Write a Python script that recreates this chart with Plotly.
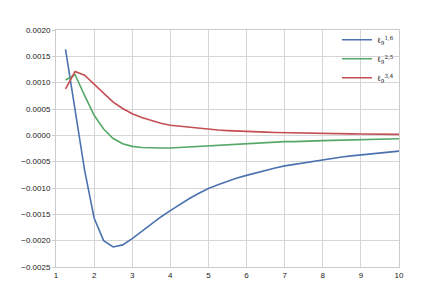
import plotly.graph_objects as go

x_vals = [1.25, 1.5, 1.75, 2.0, 2.25, 2.5, 2.75, 3.0, 3.25, 3.5, 3.75, 4.0,
          4.25, 4.5, 4.75, 5.0, 5.25, 5.5, 5.75, 6.0, 6.25, 6.5, 6.75, 7.0,
          7.25, 7.5, 7.75, 8.0, 8.25, 8.5, 8.75, 9.0, 9.25, 9.5, 9.75, 10.0]

l16 = [0.00163, 0.00050, -0.00066, -0.00157, -0.00200, -0.00212, -0.00208, -0.00196,
       -0.00182, -0.00168, -0.00155, -0.00143, -0.00131, -0.00120, -0.00110, -0.00101,
       -0.00094, -0.00087, -0.00081, -0.00076, -0.00071, -0.00066, -0.00062, -0.00058,
       -0.00055, -0.00052, -0.00049, -0.00046, -0.00044, -0.00041, -0.00039, -0.00037,
       -0.00035, -0.00033, -0.00032, -0.00030]

l25 = [0.00105, 0.00115, 0.00076, 0.00038, 0.00012, -0.00006, -0.00016, -0.00021,
       -0.00023, -0.00024, -0.00024, -0.00024, -0.00023, -0.00022, -0.00020, -0.00019,
       -0.00018, -0.00017, -0.00016, -0.00015, -0.00014, -0.00014, -0.00013, -0.00012,
       -0.00012, -0.00011, -0.00011, -0.00010, -0.000095, -0.00009, -0.000085, -0.00008,
       -0.000075, -0.00007, -0.000068, -0.000065]

l34 = [0.00088, 0.00121, 0.00114, 0.00097, 0.00079, 0.00063, 0.00051, 0.00041,
       0.00034, 0.00028, 0.00023, 0.00019, 0.00017, 0.00015, 0.00013, 0.00011,
       0.00010, 0.00009, 0.00008, 0.00007, 0.000065, 0.00006, 0.000055, 0.00005,
       0.000046, 0.000042, 0.000038, 0.000034, 0.000031, 0.000029, 0.000027, 0.000025,
       0.000023, 0.000022, 0.00002, 0.000019]

series_names = ["ℓ<sub>9</sub><sup>1,6</sup>", "ℓ<sub>9</sub><sup>2,5</sup>", "ℓ<sub>9</sub><sup>3,4</sup>"]
series_colors = ["#4C72B0", "#55A868", "#C44E52"]

x_ticks = [1, 2, 3, 4, 5, 6, 7, 8, 9, 10]
y_ticks = [0.0020, 0.0015, 0.0010, 0.0005, 0.0, -0.0005, -0.0010, -0.0015, -0.0020, -0.0025]
y_tick_labels = ["0.0020", "0.0015", "0.0010", "0.0005", "0.0000", "−0.0005",
                 "−0.0010", "−0.0015", "−0.0020", "−0.0025"]

fig = go.Figure()
for name, ys, col in zip(series_names, [l16, l25, l34], series_colors):
    fig.add_trace(go.Scatter(x=x_vals, y=ys, mode="lines", name=name,
                             line=dict(color=col, width=1.6)))

axis_common = dict(showgrid=True, gridcolor="#d6d6d6", gridwidth=1,
                   showline=True, linecolor="#cccccc", linewidth=1, mirror=True,
                   zeroline=False, automargin=False,
                   tickfont=dict(family="Liberation Sans, Arial", size=8, color="#222"))

fig.update_xaxes(range=[1, 10], tickvals=x_ticks, ticks="", **axis_common)
fig.update_yaxes(range=[-0.0025, 0.0020], tickvals=y_ticks, ticktext=y_tick_labels,
                 ticks="outside", ticklen=3, tickcolor="#cccccc", **axis_common)

fig.update_layout(
    width=435, height=297,
    margin=dict(l=48, r=44, t=22, b=38),
    plot_bgcolor="white", paper_bgcolor="white",
    showlegend=True,
    legend=dict(x=1.0, y=1.02, xanchor="right", yanchor="top",
                bgcolor="rgba(255,255,255,0)", borderwidth=0,
                font=dict(family="DejaVu Serif", size=8, color="#222"),
                itemwidth=30, tracegroupgap=0),
)

fig.write_html("out.html")
